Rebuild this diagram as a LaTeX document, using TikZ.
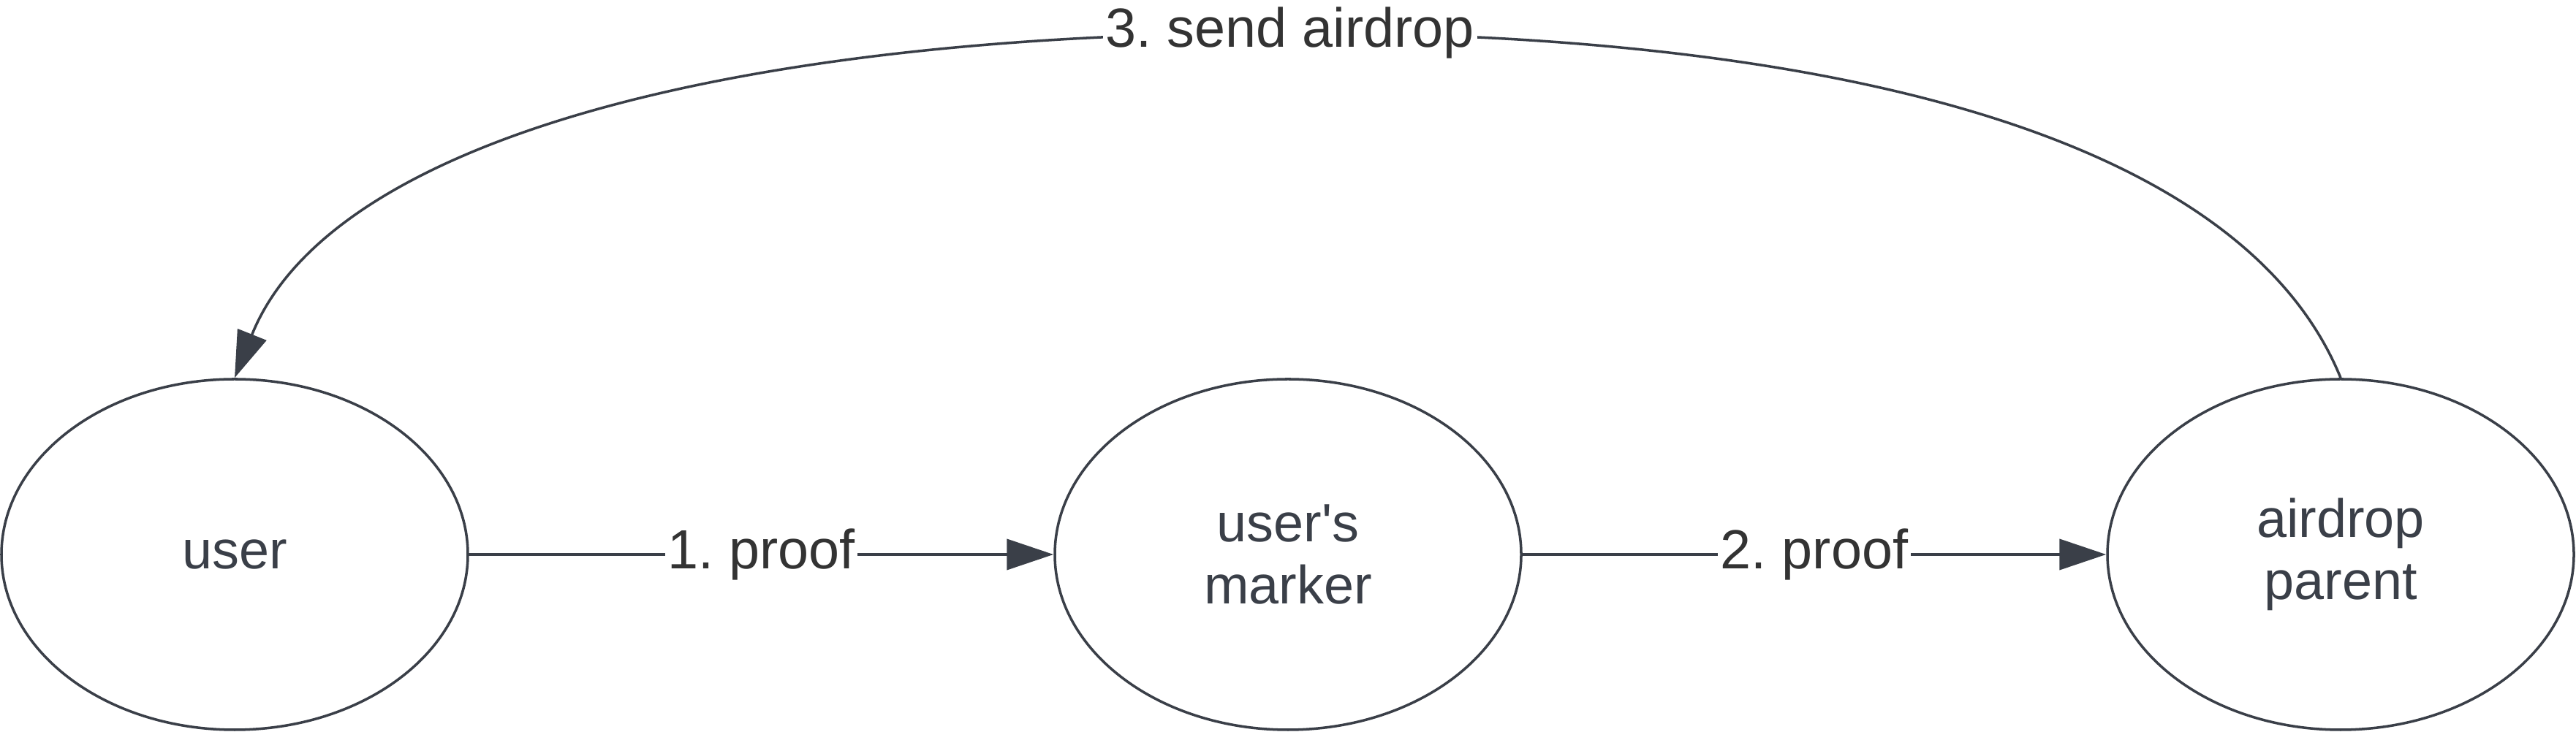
\documentclass[tikz,border=0pt]{standalone}
\usepackage{fontspec}
\setmainfont{Liberation Sans}
\usepackage{xcolor}
\usepackage{tikz}
\usetikzlibrary{shapes.geometric}
\usetikzlibrary{arrows.meta}
\definecolor{inkc}{HTML}{3A3F48}
\definecolor{labelc}{HTML}{333333}
\frenchspacing

\begin{document}
\begin{tikzpicture}
  [
    actor/.style={ellipse, draw=inkc, line width=1pt, inner sep=0pt,
      minimum width=6.38cm, minimum height=4.8cm, text=inkc, align=center,
      font=\fontsize{21}{24}\selectfont},
    msg/.style={draw=inkc, line width=1.15pt,
      -{Triangle[length=6.4mm,width=4.2mm]}},
    lbl/.style={fill=white, text=labelc, inner sep=1pt,
      font=\fontsize{21.5}{24}\selectfont}
  ]
  \useasboundingbox (0,0) rectangle (35.24,10.02);

  \node (user)   at ( 3.21,2.43) [actor] {user};
  \node (marker) at (17.62,2.43) [actor] {user\textquotesingle s\\marker};
  \node (parent) at (32.02,2.43) [actor] {airdrop\\parent};

  \draw [msg] (user.east) -- node [lbl] {1. proof} (marker.west);
  \draw [msg] (marker.east) -- node [lbl] {2. proof} (parent.west);

  % answer goes back over the top
  \draw [msg, line width=1pt]
    (parent.north) .. controls (30.68,8.14) and (25.15,9.57) ..
    (17.65,9.57) node [lbl] (sendLabel) {3. send airdrop}
    .. controls (10.15,9.57) and (4.53,8.14) .. (user.north);
\end{tikzpicture}
\end{document}
